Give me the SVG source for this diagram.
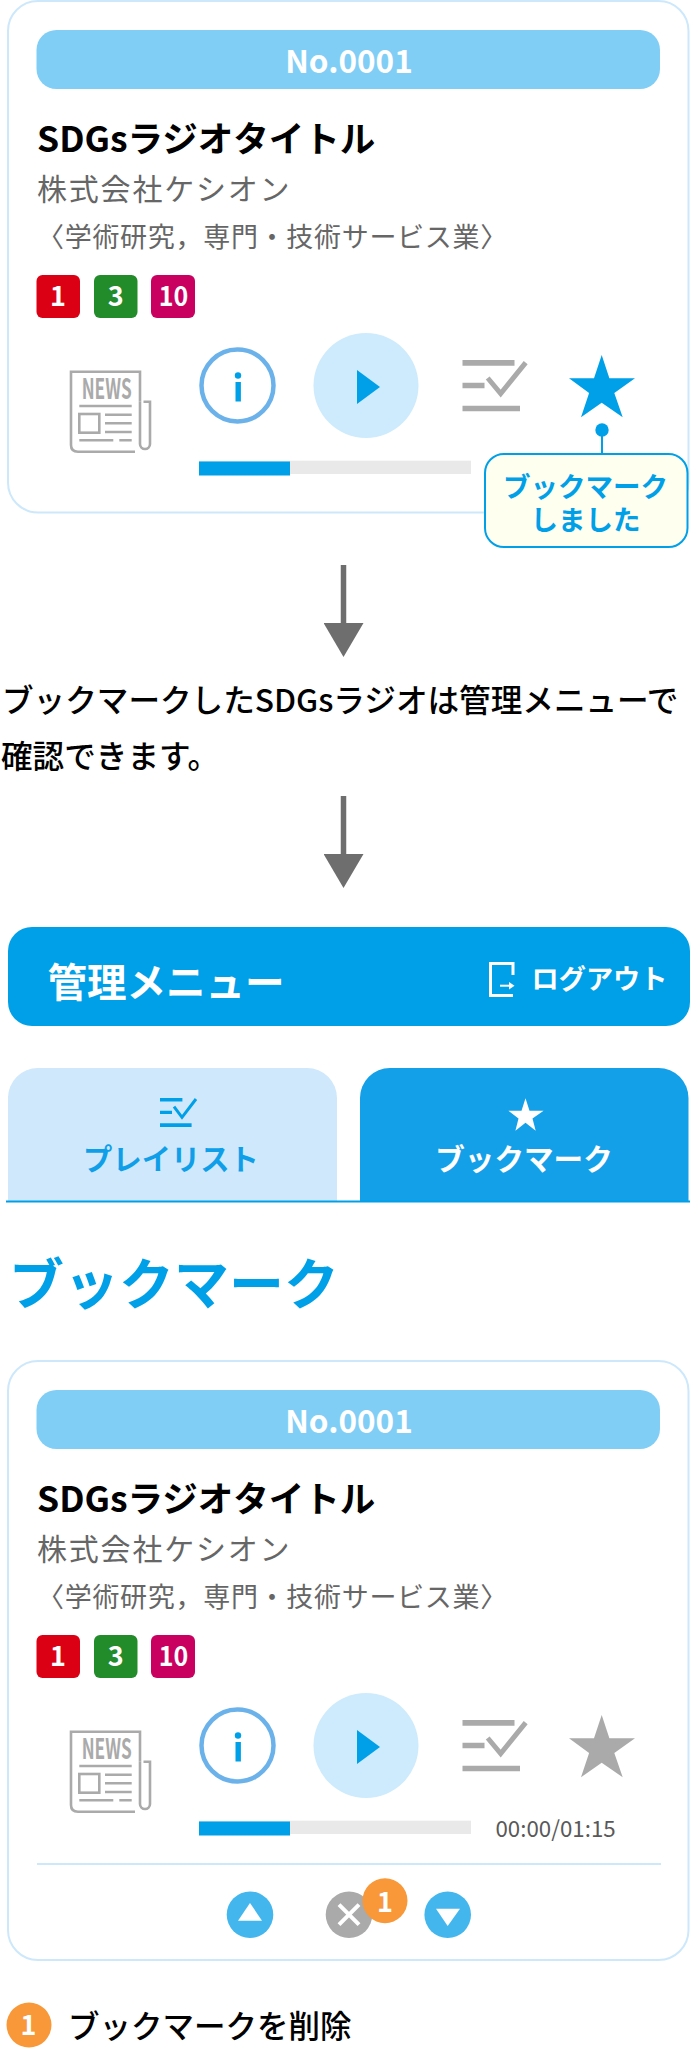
<svg xmlns="http://www.w3.org/2000/svg" width="690" height="2048" viewBox="0 0 690 2048">
<style>
text{font-family:"Noto Sans CJK JP","Noto Sans",sans-serif}
.card{fill:#fff;stroke:#cde8fb;stroke-width:2}
.bar{fill:#80cef5}
.no{font-size:31.5px;font-weight:700;fill:#fff;text-anchor:middle}
.title{font-size:35.5px;font-weight:700;fill:#000}
.co{font-size:30px;fill:#666;letter-spacing:1.8px}
.ind{font-size:27px;fill:#666;letter-spacing:.7px}
.badge{font-size:27px;font-weight:700;fill:#fff;text-anchor:middle}
.ico{fill:none;stroke:#aaa;stroke-width:2.6}
.gry{fill:#aaa}
.news{font-size:28px;font-weight:700;fill:#aaa}
.info{fill:#fff;stroke:#6cb2ea;stroke-width:4.5}
.blue{fill:#00a0e9}
.play{fill:#cdebfc}
.track{fill:#e9e9e9}
.btn{fill:#43b6ee}
.wh{fill:#fff}
.org{fill:#f89838}
.body{font-size:31.6px;font-weight:500;fill:#000}
.conn{stroke:#6e6e6e;stroke-width:5.5;fill:none;marker-end:url(#ah)}
</style>
<defs>
<marker id="ah" markerUnits="userSpaceOnUse" markerWidth="34" markerHeight="40" refX="0" refY="20" orient="auto"><path d="M0,0L34,20L0,40Z" fill="#6e6e6e"/></marker>
<g id="newsIcon">
<path class="ico" d="M140,401.7V371.7H71V445Q71,451.7 78,451.7H135"/>
<path class="ico" d="M143.5,401.7H150V444A5,5 0 0 1 140,444V401.7"/>
<path class="ico" d="M79.3,406H131.7M105,414.7H131.7M105,423.3H131.7M105,432H131.7M79.3,440.3H113.3M119.3,440.3H131.7"/>
<rect class="ico" x="79.3" y="414" width="20" height="18.7"/>
</g>
<g id="infoIcon">
<circle class="info" cx="237.5" cy="385.5" r="36"/>
<circle class="blue" cx="238" cy="375.5" r="3.2"/>
<rect class="blue" x="235.5" y="382" width="5.4" height="19.5"/>
</g>
<g id="playIcon">
<circle class="play" cx="366" cy="385.5" r="52.5"/>
<path class="blue" d="M357,370L380,387L357,404Z"/>
</g>
<g id="checkIcon">
<path class="gry" d="M462.5,360H514.5V365.7H462.5ZM462.5,382.7H484.5V388.3H462.5ZM462.5,405.7H520V411.3H462.5Z"/>
<path d="M487.7,378L500.7,393.5L525.7,362.7" fill="none" stroke="#aaa" stroke-width="5"/>
</g>
<path id="star" d="M601.7,355L609.4,378.3H635L614.3,392.9L622.7,417.3L601.7,402.7L581,417.3L589.1,392.9L569,378.3H594Z"/>
</defs>

<g id="card-1">
<rect class="card" x="8" y="1" width="680.5" height="511.5" rx="30"/>
<rect class="bar" x="36.5" y="30" width="623.5" height="59" rx="20"/>
<text class="no" x="349" y="72.5">No.0001</text>
<text class="title" x="37" y="152">SDGsラジオタイトル</text>
<text class="co" x="37" y="200">株式会社ケシオン</text>
<text class="ind" x="37" y="247">〈学術研究，専門・技術サービス業〉</text>
<rect x="36.5" y="275" width="43.5" height="43" rx="6" fill="#dc0014"/>
<text class="badge" x="58" y="306">1</text>
<rect x="94" y="275" width="43.5" height="43" rx="6" fill="#228b2a"/>
<text class="badge" x="115.7" y="306">3</text>
<rect x="151" y="275" width="44" height="43" rx="6" fill="#c9005f"/>
<text class="badge" x="173.5" y="306" textLength="29.5" lengthAdjust="spacingAndGlyphs">10</text>
<use href="#newsIcon"/>
<text class="news" x="81.7" y="399.3" textLength="50" lengthAdjust="spacingAndGlyphs">NEWS</text>
<use href="#infoIcon"/>
<use href="#playIcon"/>
<use href="#checkIcon"/>
<use href="#star" fill="#00a0e9"/>
<rect class="track" x="199" y="460.7" width="272" height="13.3"/>
<rect class="blue" x="199" y="461.5" width="91" height="14"/>
</g>

<g id="connectors">
<line class="conn" x1="343.5" y1="565" x2="343.5" y2="623"/>
<line class="conn" x1="343.5" y1="796" x2="343.5" y2="854"/>
<line x1="602" y1="430" x2="602" y2="454" stroke="#00a0e9" stroke-width="2"/>
<circle class="blue" cx="602" cy="430" r="6.7"/>
</g>

<g id="callout">
<rect x="485" y="454" width="202.5" height="93" rx="19" fill="#fffff0" stroke="#00a0e9" stroke-width="2"/>
<text font-size="27.5" font-weight="700" fill="#00a0e9" text-anchor="middle"><tspan x="585.5" y="497">ブックマーク</tspan><tspan x="585.5" y="530">しました</tspan></text>
</g>

<g id="note">
<text class="body" x="2" y="712">ブックマークしたSDGsラジオは管理メニューで</text>
<text class="body" x="1" y="768">確認できます。</text>
</g>

<g id="header">
<rect class="blue" x="8" y="927" width="682" height="99" rx="24"/>
<text x="47.5" y="996.5" font-size="39.5" font-weight="700" fill="#fff">管理メニュー</text>
<path d="M513,975V963.5H490.5V995.5H513" fill="none" stroke="#fff" stroke-width="3"/>
<path d="M500,985.7H510" stroke="#fff" stroke-width="2" fill="none"/>
<path class="wh" d="M509,982L514.5,985.7L509,989.4Z"/>
<text x="531.5" y="989" font-size="27.2" font-weight="700" fill="#fff">ログアウト</text>
</g>

<g id="tab-playlist">
<path fill="#cfe8fc" d="M8,1201V1098A30,30 0 0 1 38,1068H307A30,30 0 0 1 337,1098V1201Z"/>
<path class="blue" d="M160,1098H182.4V1101.5H160ZM160,1110.7H172V1114H160ZM160,1123.3H191.6V1127H160Z"/>
<path d="M174,1106.7L182,1117.3L196,1099" fill="none" stroke="#00a0e9" stroke-width="3"/>
<text x="171" y="1170" font-size="29.3" font-weight="700" fill="#0f9fe9" text-anchor="middle">プレイリスト</text>
</g>

<g id="tab-bookmark">
<path fill="#149fe9" d="M360,1201V1098A30,30 0 0 1 390,1068H658.5A30,30 0 0 1 688.5,1098V1201Z"/>
<path class="wh" d="M525.5,1098.3L529.5,1110.7H543.6L532.5,1118.5L535.7,1130.7L525.5,1122.7L515.4,1130.7L518.5,1118.5L508.4,1110.7H521.5Z"/>
<text x="524" y="1170" font-size="29.6" font-weight="700" fill="#fff" text-anchor="middle">ブックマーク</text>
</g>
<line id="tab-rule" x1="6" y1="1201.5" x2="690" y2="1201.5" stroke="#00a0e9" stroke-width="2"/>

<g id="heading">
<text x="9" y="1304" font-size="55" font-weight="700" fill="#00a0e9">ブックマーク</text>
</g>

<g id="card-2">
<rect class="card" x="8" y="1361" width="680.5" height="599" rx="30"/>
<rect class="bar" x="36.5" y="1390" width="623.5" height="59" rx="20"/>
<text class="no" x="349" y="1432.5">No.0001</text>
<text class="title" x="37" y="1512">SDGsラジオタイトル</text>
<text class="co" x="37" y="1560">株式会社ケシオン</text>
<text class="ind" x="37" y="1607">〈学術研究，専門・技術サービス業〉</text>
<rect x="36.5" y="1635" width="43.5" height="43" rx="6" fill="#dc0014"/>
<text class="badge" x="58" y="1666">1</text>
<rect x="94" y="1635" width="43.5" height="43" rx="6" fill="#228b2a"/>
<text class="badge" x="115.7" y="1666">3</text>
<rect x="151" y="1635" width="44" height="43" rx="6" fill="#c9005f"/>
<text class="badge" x="173.5" y="1666" textLength="29.5" lengthAdjust="spacingAndGlyphs">10</text>
<g transform="translate(0,1360)">
<use href="#newsIcon"/>
<text class="news" x="81.7" y="399.3" textLength="50" lengthAdjust="spacingAndGlyphs">NEWS</text>
<use href="#infoIcon"/>
<use href="#playIcon"/>
<use href="#checkIcon"/>
<use href="#star" fill="#aaa"/>
<rect class="track" x="199" y="460.7" width="272" height="13.3"/>
<rect class="blue" x="199" y="461.5" width="91" height="14"/>
</g>
<text x="495.5" y="1837" font-size="22.3" fill="#595959">00:00/01:15</text>
<line x1="37" y1="1864" x2="661" y2="1864" stroke="#cde8fb" stroke-width="2"/>
</g>

<g id="btn-up">
<circle class="btn" cx="250" cy="1914.7" r="23.3"/>
<path class="wh" d="M250,1903L262,1920.7H238Z"/>
</g>
<g id="btn-delete">
<circle class="gry" cx="349" cy="1914.7" r="23.3"/>
<path d="M339,1904.7L359,1924.7M359,1904.7L339,1924.7" stroke="#fff" stroke-width="4" fill="none"/>
</g>
<g id="btn-down">
<circle class="btn" cx="447.7" cy="1914.7" r="23.3"/>
<path class="wh" d="M436,1908.7H460L447.7,1926Z"/>
</g>
<g id="marker-1">
<circle class="org" cx="385" cy="1900.7" r="22.5"/>
<text x="385" y="1911.5" font-size="27" font-weight="700" fill="#fff" text-anchor="middle">1</text>
</g>
<g id="legend-1">
<circle class="org" cx="29" cy="2025" r="22.5"/>
<text x="28.5" y="2035" font-size="27" font-weight="700" fill="#fff" text-anchor="middle">1</text>
<text x="68" y="2038" font-size="31.5" font-weight="500" fill="#000">ブックマークを削除</text>
</g>
</svg>
